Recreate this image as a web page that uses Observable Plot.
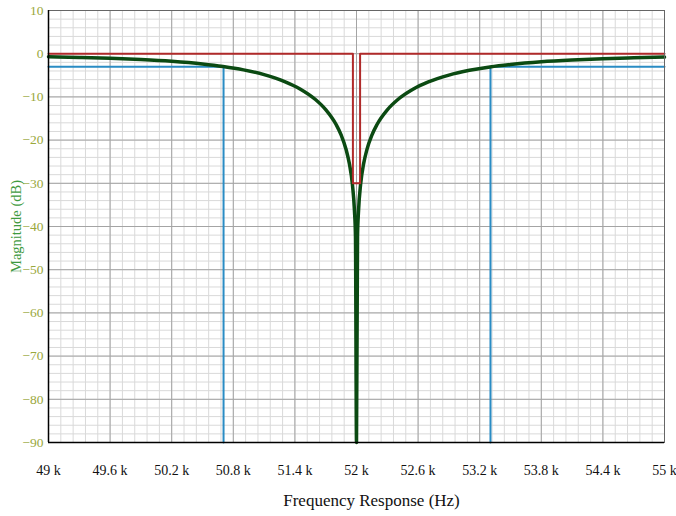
<!DOCTYPE html>
<html>
<head>
<meta charset="utf-8">
<script src="https://cdn.jsdelivr.net/npm/d3@7"></script>
<script src="https://cdn.jsdelivr.net/npm/@observablehq/plot@0.6"></script>
<style>
  body { margin: 0; background: #fff; }
  #chart svg { display: block; }
</style>
</head>
<body>
<div id="chart"></div>
<script>
// Axis tick values
const freqTicks = [49000, 49600, 50200, 50800, 51400, 52000, 52600, 53200, 53800, 54400, 55000];
const dbTicks = [10, 0, -10, -20, -30, -40, -50, -60, -70, -80, -90];

// Measured notch-filter response (Hz, dB)
const responseFreq = [49000, 49300, 49600, 49900, 50200, 50500, 50700, 50900, 51100, 51300, 51450,
  51600, 51700, 51800, 51850, 51900, 51930, 51960, 51980, 51990, 52000, 52010, 52020, 52040,
  52070, 52100, 52150, 52200, 52300, 52400, 52550, 52700, 52900, 53100, 53300, 53500, 53800,
  54100, 54400, 54700, 55000];
const responseDb = [-0.71, -0.86, -1.07, -1.36, -1.77, -2.38, -2.96, -3.74, -4.84, -6.44, -8.15,
  -10.6, -12.94, -16.34, -18.8, -22.3, -25.38, -30.24, -36.26, -42.28, -90, -42.28, -36.26, -30.25,
  -25.4, -22.31, -18.83, -16.38, -12.99, -10.66, -8.23, -6.53, -4.95, -3.85, -3.06, -2.49, -1.87,
  -1.46, -1.16, -0.95, -0.79];

// Ideal notch template
const idealFreq = [49000, 51965, 51965, 52035, 52035, 55000];
const idealDb = [0, 0, -30, -30, 0, 0];

// -3 dB band-edge markers
const bandSide = ["low", "low", "low", "high", "high", "high"];
const bandFreq = [49000, 50705, 50705, 53305, 53305, 55000];
const bandDb = [-3, -3, -90, -90, -3, -3];

const xTitle = "Frequency Response (Hz)";
const yTitle = "Magnitude (dB)";

const response = responseFreq.map((f, i) => ({f, db: responseDb[i]}));
const ideal = idealFreq.map((f, i) => ({f, db: idealDb[i]}));
const band = bandFreq.map((f, i) => ({f, db: bandDb[i], side: bandSide[i]}));

// Minor grid: five divisions between major ticks
const minorX = d3.range(0, 51).map(i => 49000 + i * 120);
const minorY = d3.range(0, 51).map(i => -90 + i * 2);

const fmtK = d => `${d / 1000} k`;

const plot = Plot.plot({
  width: 676,
  height: 516,
  marginLeft: 48,
  marginRight: 12,
  marginTop: 10,
  marginBottom: 74,
  style: {background: "#fff", fontFamily: "'Liberation Serif', 'Times New Roman', serif"},
  x: {domain: [49000, 55000], label: null},
  y: {domain: [-90, 10], label: null},
  marks: [
    Plot.ruleX(minorX, {stroke: "#d9d9d9", strokeWidth: 1}),
    Plot.ruleY(minorY, {stroke: "#d9d9d9", strokeWidth: 1}),
    Plot.ruleX(freqTicks, {stroke: "#a4a4a4", strokeWidth: 1}),
    Plot.ruleY(dbTicks, {stroke: "#a4a4a4", strokeWidth: 1}),
    Plot.line(band, {x: "f", y: "db", z: "side", stroke: "#2a8cc4", strokeWidth: 2}),
    Plot.line(response, {x: "f", y: "db", stroke: "#0b4a12", strokeWidth: 3.5, curve: "monotone-x"}),
    Plot.line(ideal, {x: "f", y: "db", stroke: "#b02a2a", strokeWidth: 2}),
    Plot.frame({stroke: "#666", strokeWidth: 1}),
    Plot.ruleX([49000], {stroke: "#000", strokeWidth: 1.5}),
    Plot.ruleY([-90], {stroke: "#000", strokeWidth: 1.5}),
    Plot.axisX({
      ticks: freqTicks, tickFormat: fmtK, tickSize: 0, tickPadding: 23,
      fontSize: 14, color: "#111",
      label: xTitle, labelArrow: "none", labelAnchor: "center", labelOffset: 63
    }),
    Plot.axisY({
      ticks: dbTicks, tickSize: 0, tickPadding: 5,
      fontSize: 13.5, color: "#9aa83c",
      label: yTitle, labelArrow: "none", labelAnchor: "center", labelOffset: 38
    })
  ]
});

// Axis titles: own text, size and colour
const svg = d3.select(plot);
svg.selectAll('[aria-label="x-axis label"] text')
  .text(xTitle).attr("font-size", 17).attr("fill", "#111").attr("dx", 15);
svg.selectAll('[aria-label="y-axis label"] text')
  .text(yTitle).attr("font-size", 14.5).attr("fill", "#3f9a3f");

document.getElementById("chart").append(plot);
</script>
</body>
</html>
